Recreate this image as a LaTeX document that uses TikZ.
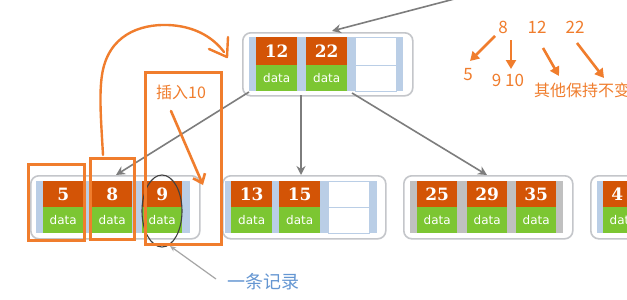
\documentclass[tikz,border=0pt]{standalone}
\usepackage{fontspec}
\setmainfont{DejaVu Sans}
\newfontfamily\cjk{Noto Sans CJK SC}
\newfontfamily\numf{DejaVu Serif}
\usetikzlibrary{arrows.meta,shapes.geometric}
\definecolor{korange}{RGB}{211,84,6}
\definecolor{kgreen}{RGB}{124,198,50}
\definecolor{kstrip}{RGB}{186,206,230}
\definecolor{kgray}{RGB}{192,192,192}
\definecolor{kborder}{RGB}{196,198,202}
\definecolor{aorange}{RGB}{240,125,45}
\definecolor{edgegray}{RGB}{125,125,125}
\definecolor{capblue}{RGB}{100,150,210}
\tikzset{
  keyc/.style={fill=korange, text=white, anchor=north west, inner sep=0pt,
    minimum height=#1, font=\numf\bfseries\fontsize{17}{17}\selectfont},
  datac/.style={fill=kgreen, text=white, anchor=north west, inner sep=0pt,
    minimum height=26pt, font=\fontsize{12}{12}\selectfont},
  emptyc/.style={fill=white, draw=kstrip, line width=0.8pt, anchor=north west, inner sep=0pt},
  outerb/.style={draw=kborder, fill=white, line width=1.6pt, rounded corners=8pt,
    anchor=north west, inner sep=0pt},
  tree/.style={draw=edgegray, line width=1.6pt, -{Stealth[length=9pt,width=9pt]}},
  annbox/.style={draw=aorange, line width=3pt},
  annarrow/.style={draw=aorange, line width=2.6pt, -{Triangle[length=9pt,width=10pt]}},
  anntext/.style={text=aorange, font=\cjk\fontsize{17}{17}\selectfont, inner sep=0pt},
}
% name, x, y, width (pt), key height (number), text
\newcommand\kcell[6]{%
  \node[keyc=#5pt, minimum width=#4] (#1k) at (#2,#3) {#6};
  \node[datac, minimum width=#4] (#1d) at (#2,#3+#5) {data};}
\begin{document}
\begin{tikzpicture}[x=1pt,y=-1pt]
\path[use as bounding box, fill=white] (0,0) rectangle (627,300);
\clip (0,0) rectangle (627,300);

% ---------- root ----------
\node[outerb, minimum width=170pt, minimum height=63pt] (root) at (242,32) {};
\fill[kstrip] (249,37) rectangle (403,91);
\kcell{ra}{256}{37}{41pt}{28}{12}
\kcell{rb}{306}{37}{41pt}{28}{22}
\node[emptyc, minimum width=41pt, minimum height=28pt] (rce) at (355,37) {};
\node[emptyc, minimum width=41pt, minimum height=26pt] (rcf) at (355,65) {};

% ---------- leaf 1 ----------
\node[outerb, minimum width=169pt, minimum height=63pt] (leafa) at (30,175) {};
\fill[kstrip] (36,181) rectangle (190,233);
\kcell{la}{43}{181}{40pt}{26}{5}
\kcell{lb}{92}{181}{40pt}{26}{8}
\kcell{lc}{142}{181}{40pt}{26}{9}

% ---------- leaf 2 ----------
\node[outerb, minimum width=163pt, minimum height=63pt] (leafb) at (222,175) {};
\fill[kstrip] (225,181) rectangle (377,233);
\kcell{ma}{231}{181}{41pt}{26}{13}
\kcell{mb}{279}{181}{41pt}{26}{15}
\node[emptyc, minimum width=41pt, minimum height=26pt] (mce) at (328,181) {};
\node[emptyc, minimum width=41pt, minimum height=26pt] (mcf) at (328,207) {};

% ---------- leaf 3 ----------
\node[outerb, minimum width=169pt, minimum height=63pt] (leafc) at (403,175) {};
\fill[kgray] (410,181) rectangle (563,233);
\kcell{na}{417}{181}{40pt}{26}{25}
\kcell{nb}{467}{181}{40pt}{26}{29}
\kcell{nc}{516}{181}{40pt}{26}{35}

% ---------- leaf 4 (cut off) ----------
\node[outerb, minimum width=100pt, minimum height=63pt] (leafd) at (590,175) {};
\fill[kstrip] (597,181) rectangle (700,233);
\kcell{pa}{603}{181}{40pt}{26}{4\phantom{0}}

% ---------- tree connectors ----------
\coordinate (topin) at (462,-3);
\coordinate (rootin) at (332,31);
\coordinate (rA) at (249,92);
\coordinate (rB) at (301,95);
\coordinate (rC) at (352,93);
\coordinate (lAin) at (116,175);
\coordinate (lBin) at (301,175);
\coordinate (lCin) at (487,175);
\draw[tree] (topin) -- (rootin);
\draw[tree] (rA) -- (lAin);
\draw[tree] (rB) -- (lBin);
\draw[tree] (rC) -- (lCin);

% ---------- record ellipse + caption ----------
\node[draw=black!75, line width=1.1pt, ellipse, minimum width=40pt, minimum height=72pt, inner sep=0pt] (rec) at (162,211) {};
\node[text=capblue, font=\cjk\fontsize{18}{18}\selectfont, inner sep=0pt] (cap) at (263,282) {一条记录};
\coordinate (capline) at (216,279);
\coordinate (recpt) at (170,246);
\draw[draw=black!35, line width=1.2pt, -{Stealth[length=6pt,width=5pt]}] (capline) -- (recpt);

% ---------- orange annotations ----------
\node[annbox, minimum width=56pt, minimum height=76pt, anchor=north west, inner sep=0pt] (box5) at (27,163) {};
\node[annbox, minimum width=44pt, minimum height=81pt, anchor=north west, inner sep=0pt] (box8) at (89,157) {};
\node[annbox, minimum width=76pt, minimum height=172pt, anchor=north west, inner sep=0pt] (box9) at (144,71) {};
\node[anntext, font=\cjk\fontsize{16}{16}\selectfont] (ins) at (181,92) {插入10};
\coordinate (insA) at (171,111);
\coordinate (insB) at (203,185);
\draw[draw=aorange, line width=2.6pt, line cap=round, -{Straight Barb[length=8pt,width=13pt]}] (insA) -- (insB);

\coordinate (cvA) at (103,155);
\coordinate (cvTip) at (227,57);
\draw[draw=aorange, line width=2.4pt, line cap=round]
  (cvA) .. controls (101,120) and (99,95) .. (102,75)
        .. controls (108,35) and (140,24) .. (168,25)
        .. controls (193,26) and (212,36) .. (224,52);
\draw[draw=aorange, line width=2.4pt, line cap=round, line join=round]
  (228,37) -- (cvTip) -- (209,49);

% right-hand notes
\node[anntext] (n8) at (503,27) {8};
\node[anntext] (n12) at (537,27) {12};
\node[anntext] (n22) at (575,27) {22};
\node[anntext] (n5) at (468,75) {5};
\node[anntext] (n910) at (508,80) {9 10};
\node[anntext, font=\cjk\fontsize{16}{16}\selectfont, anchor=west] (rest) at (534,90) {其他保持不变};
\coordinate (a1s) at (495,36); \coordinate (a1e) at (470,61);
\coordinate (a2s) at (511,40); \coordinate (a2e) at (511,69);
\coordinate (a3s) at (543,48); \coordinate (a3e) at (559,76);
\coordinate (a4s) at (577,43); \coordinate (a4e) at (604,78);
\draw[annarrow] (a1s) -- (a1e);
\draw[annarrow] (a2s) -- (a2e);
\draw[annarrow] (a3s) -- (a3e);
\draw[annarrow] (a4s) -- (a4e);
\end{tikzpicture}
\end{document}
